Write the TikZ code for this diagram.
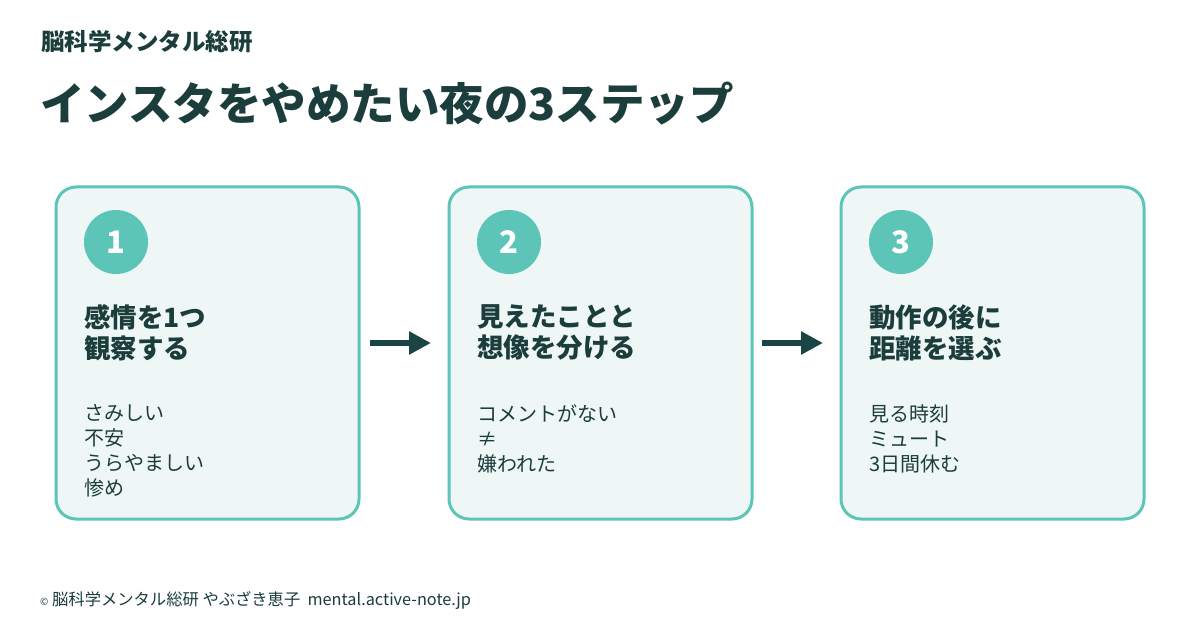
\documentclass[tikz,border=0pt]{standalone}
\usepackage{fontspec}
\setmainfont{Noto Sans CJK JP}
\usetikzlibrary{arrows.meta}
\definecolor{dk}{HTML}{1B3D3B}
\definecolor{tl}{HTML}{5CC5B8}
\definecolor{bg}{HTML}{EEF7F5}
\definecolor{ar}{HTML}{1A4544}
\begin{document}
\begin{tikzpicture}[x=1pt,y=-1pt,
  card/.style={draw=tl,line width=3pt,fill=bg,rounded corners=20pt},
  num/.style={circle,fill=tl,minimum size=64pt,inner sep=0pt,text=white,font=\fontsize{31}{31}\selectfont\bfseries},
  ttl/.style={anchor=north west,align=left,text=dk,inner sep=0pt,font=\fontsize{26.5}{31}\selectfont\bfseries},
  body/.style={anchor=north west,align=left,text=dk,inner sep=0pt,font=\fontsize{20}{25}\selectfont},
  flowarrow/.style={-{Triangle[length=22pt,width=22pt]},line width=5.5pt,draw=ar}]
\useasboundingbox[fill=white] (0,0) rectangle (1200,628);
\node[anchor=west,text=dk,inner sep=0pt,font=\fontsize{23.5}{23.5}\selectfont\bfseries] (hd) at (41,42) {脳科学メンタル総研};
\node[anchor=west,text=dk,inner sep=0pt,font=\fontsize{44.5}{44.5}\selectfont\bfseries] (tt) at (40,104) {インスタをやめたい夜の3ステップ};
\foreach \i/\x/\a/\b in {1/56/{感情を1つ\\観察する}/{さみしい\\不安\\うらやましい\\惨め},2/449/{見えたことと\\想像を分ける}/{コメントがない\\≠\\嫌われた},3/841/{動作の後に\\距離を選ぶ}/{見る時刻\\ミュート\\3日間休む}}{
  \draw[card] (\x,187) rectangle ++(303,332);
  \node[num] (n\i) at (\x+60,242) {\i};
  \node[ttl] (t\i) at (\x+28,304) {\a};
  \node[body] (b\i) at (\x+28,404) {\b};
}
\coordinate (a1) at (370,343); \coordinate (a2) at (431,343);
\coordinate (a3) at (762,343); \coordinate (a4) at (823,343);
\draw[flowarrow] (a1) -- (a2);
\draw[flowarrow] (a3) -- (a4);
\node[anchor=west,text=dk,inner sep=0pt,font=\fontsize{16.3}{16}\selectfont] (ft) at (40,600) {{\fontsize{10}{10}\selectfont ©} 脳科学メンタル総研 やぶざき恵子\ \ mental.active-note.jp};
\end{tikzpicture}
\end{document}
